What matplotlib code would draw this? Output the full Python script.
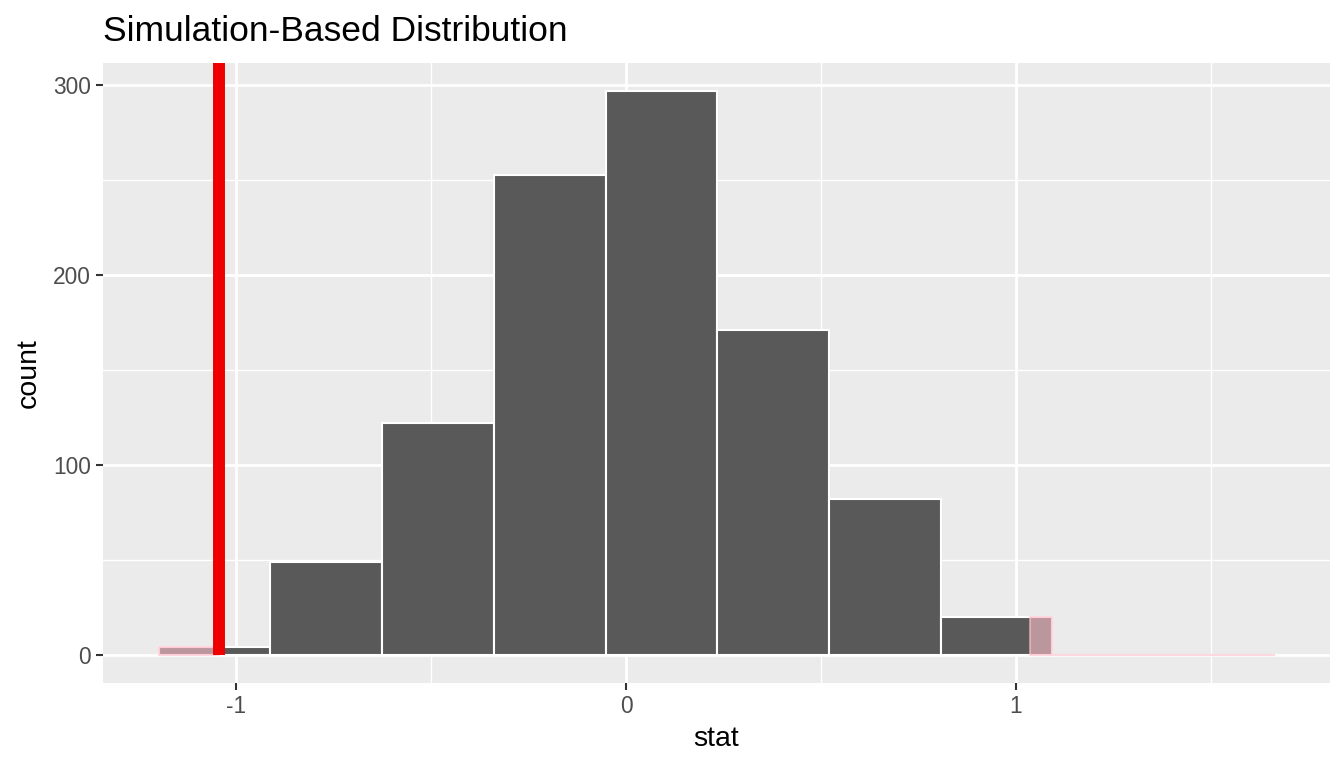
import matplotlib
matplotlib.use("Agg")
import matplotlib.pyplot as plt
import numpy as np

# histogram of the simulated null distribution
bin_start = -1.198
bin_width = 0.2864
counts = [4, 49, 122, 253, 297, 171, 82, 20]

obs_stat = -1.044      # observed statistic (red line)
mirror_stat = 1.036    # other tail for the two-sided p-value
data_max = 1.662       # right end of the shaded area

x_ticks = [-1, 0, 1]
x_minor = [-0.5, 0.5, 1.5]
y_ticks = [0, 100, 200, 300]
y_minor = [50, 150, 250]

plt.rcParams["font.family"] = ["Liberation Sans", "DejaVu Sans"]

edges = bin_start + bin_width * np.arange(len(counts) + 1)
counts = np.array(counts)


def height_at(x):
    idx = np.searchsorted(edges, x, side="right") - 1
    h = np.zeros_like(x, dtype=float)
    ok = (idx >= 0) & (idx < len(counts))
    h[ok] = counts[idx[ok]]
    return h


fig = plt.figure(figsize=(13.44, 7.68), dpi=100)
ax = fig.add_axes([103 / 1344, 1 - 683 / 768, (1330 - 103) / 1344, (683 - 63) / 768])
ax.set_facecolor("#EBEBEB")

ax.bar(edges[:-1], counts, width=bin_width, align="edge",
       color="#595959", edgecolor="white", linewidth=1.5, zorder=3)

# shaded tails
left_x = np.concatenate([edges[edges < obs_stat], [obs_stat]])
left_x = np.unique(np.concatenate([[edges[0]], left_x]))
right_x = np.concatenate([[mirror_stat], edges[(edges > mirror_stat) & (edges < data_max)], [data_max]])
for xs in (left_x, right_x):
    hs = height_at(xs[:-1])
    hs = np.append(hs, hs[-1])
    ax.fill_between(xs, 0, hs, step="post", facecolor="pink", alpha=0.6,
                    edgecolor="pink", linewidth=1.5, zorder=4)

span = data_max - edges[0]
ymin, ymax = -0.05 * counts.max(), 1.05 * counts.max()
ax.set_xlim(edges[0] - 0.05 * span, data_max + 0.05 * span)
ax.set_ylim(ymin, ymax)

# red line runs from zero up past the panel top
ax.vlines(obs_stat, 0, ymax * 1.1, color="#EE0000", linewidth=8.6, zorder=5)

ax.set_xticks(x_ticks)
ax.set_xticklabels([str(t) for t in x_ticks])
ax.set_xticks(x_minor, minor=True)
ax.set_yticks(y_ticks)
ax.set_yticks(y_minor, minor=True)
ax.grid(which="major", color="white", linewidth=2.0, zorder=0)
ax.grid(which="minor", color="white", linewidth=1.0, zorder=0)
ax.set_axisbelow(True)
for s in ax.spines.values():
    s.set_visible(False)
ax.tick_params(which="major", length=5, width=1.5, color="#333333",
               labelsize=16.4, labelcolor="#4D4D4D", pad=3.5)
ax.tick_params(which="minor", length=0)

ax.set_xlabel("stat", fontsize=20.5, labelpad=6)
ax.set_ylabel("count", fontsize=20.5, labelpad=8)
ax.set_title("Simulation-Based Distribution", loc="left", fontsize=25.5, pad=16)

fig.savefig("out.png", dpi=100)
